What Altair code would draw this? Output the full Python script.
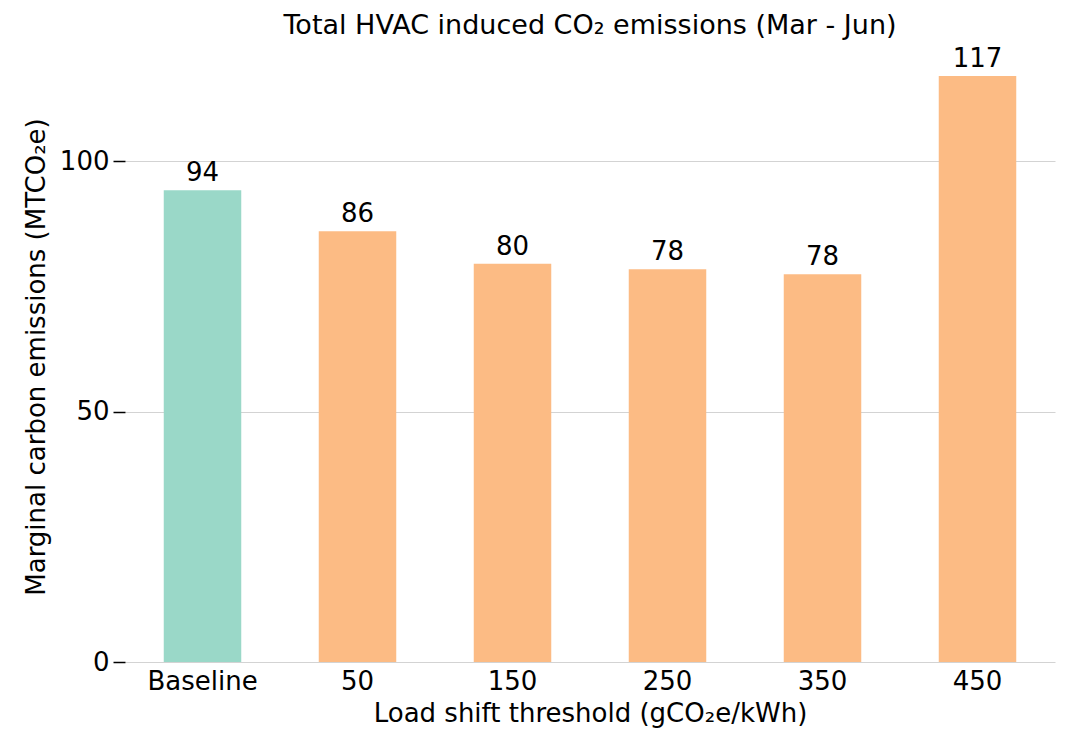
import altair as alt
import pandas as pd

categories = ["Baseline", "50", "150", "250", "350", "450"]
emissions = [94.2, 86.0, 79.5, 78.4, 77.4, 117.0]
labels = ["94", "86", "80", "78", "78", "117"]
groups = ["baseline", "shift", "shift", "shift", "shift", "shift"]

df = pd.DataFrame({"cat": categories, "val": emissions, "lab": labels, "grp": groups})

font = "DejaVu Sans"

base = alt.Chart(df).encode(
    x=alt.X("cat:N", sort=categories, title="Load shift threshold (gCO₂e/kWh)",
            scale=alt.Scale(paddingInner=0.5, paddingOuter=0.25),
            axis=alt.Axis(labelAngle=0, ticks=False, domain=False, labelFontSize=26,
                          titleFontSize=26, labelPadding=6, titlePadding=6,
                          labelColor="black", titleColor="black", titleFontWeight="normal")),
    y=alt.Y("val:Q", title="Marginal carbon emissions (MTCO₂e)",
            scale=alt.Scale(domain=[0, 122], nice=False),
            axis=alt.Axis(values=[0, 50, 100], domain=False, tickSize=12, tickColor="black",
                          tickWidth=1.5, labelFontSize=26, titleFontSize=26, labelPadding=4,
                          titlePadding=10, gridColor="#d3d3d3", labelColor="black",
                          titleColor="black", titleFontWeight="normal")),
)

bars = base.mark_bar().encode(
    color=alt.Color("grp:N", scale=alt.Scale(domain=["baseline", "shift"],
                                             range=["#9ad8c8", "#fcbb84"]), legend=None)
)
text = base.mark_text(dy=-4, baseline="bottom", fontSize=26, font=font, color="black").encode(
    text="lab:N")

chart = (bars + text).properties(
    width=930, height=611,
    autosize=alt.AutoSizeParams(type="none"),
    padding={"left": 117, "top": 43, "right": 2, "bottom": 80},
    title=alt.TitleParams("Total HVAC induced CO₂ emissions (Mar - Jun)", fontSize=27,
                          font=font, fontWeight="normal", color="black", offset=6),
).configure(font=font).configure_view(stroke=None)

chart.save("out.html", embed_options={"renderer": "svg", "actions": False})
